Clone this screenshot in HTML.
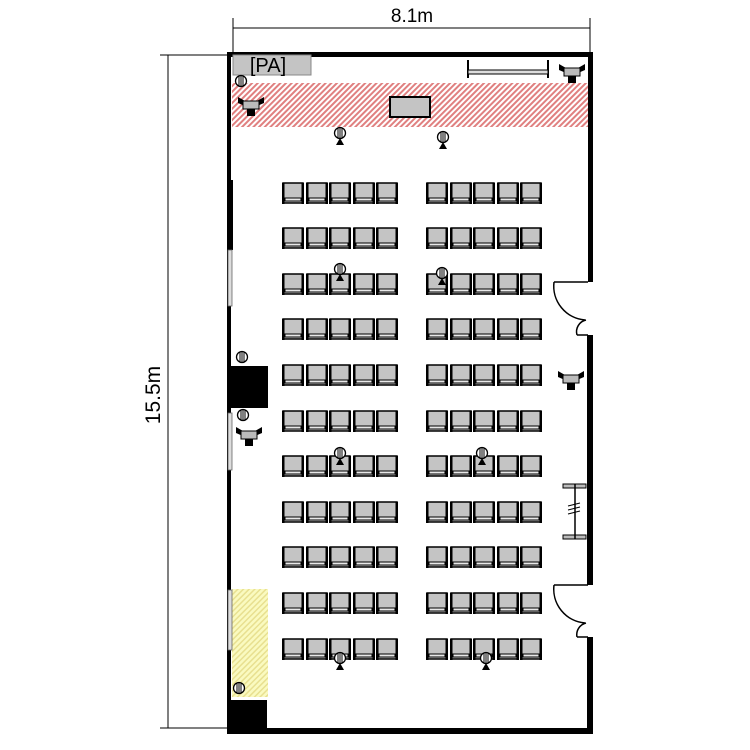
<!DOCTYPE html>
<html><head><meta charset="utf-8"><style>body{margin:0;background:#fff}svg{display:block}</style></head><body>
<svg width="750" height="750" viewBox="0 0 750 750" xmlns="http://www.w3.org/2000/svg">
<defs>
<pattern id="rh" width="4" height="4" patternUnits="userSpaceOnUse" patternTransform="rotate(45)"><rect width="4" height="4" fill="#fff"/><rect width="2" height="4" fill="#e08080"/></pattern>
<pattern id="yh" width="4" height="4" patternUnits="userSpaceOnUse" patternTransform="rotate(45)"><rect width="4" height="4" fill="#fafac0"/><rect width="1.5" height="4" fill="#e8e090"/></pattern>
<g id="ch"><rect x="0" y="0" width="20" height="20" fill="#c4c4c4" stroke="#000" stroke-width="1.5"/><rect x="-1" y="0" width="2.5" height="21" fill="#000"/><rect x="18.5" y="0" width="2.5" height="21" fill="#000"/><rect x="2" y="15" width="16" height="3" fill="#e8e8e8" stroke="#000" stroke-width="1"/></g>
<g id="mc"><ellipse cx="0" cy="0" rx="5.5" ry="5.5" fill="#fff" stroke="#000" stroke-width="1.3"/><line x1="-2" y1="-5" x2="-2" y2="5" stroke="#000"/><line x1="0" y1="-5.5" x2="0" y2="5.5" stroke="#000"/><line x1="2" y1="-5" x2="2" y2="5" stroke="#000"/></g>
<g id="mt"><use href="#mc"/><polygon points="-4,12 4,12 0,5" fill="#000"/></g>
<g id="sp"><polygon points="-13,-6 -6,-2 6,-2 13,-6 13,0 6,3 -6,3 -13,0" fill="#000"/><rect x="-8" y="-2" width="16" height="8" fill="#bbb" stroke="#000"/><rect x="-4" y="6" width="8" height="7" fill="#000"/></g>
<g id="row"><use href="#ch" x="283"/><use href="#ch" x="307"/><use href="#ch" x="330"/><use href="#ch" x="354"/><use href="#ch" x="377"/><use href="#ch" x="427"/><use href="#ch" x="451"/><use href="#ch" x="474"/><use href="#ch" x="498"/><use href="#ch" x="521"/></g>
</defs>
<!-- dimensions -->
<text x="412" y="22" font-family="Liberation Sans, sans-serif" font-size="19" text-anchor="middle">8.1m</text>
<line x1="233" y1="28" x2="590" y2="28" stroke="#000"/>
<line x1="233" y1="18" x2="233" y2="52" stroke="#000"/>
<line x1="590" y1="18" x2="590" y2="52" stroke="#000"/>
<line x1="168" y1="55" x2="168" y2="728" stroke="#000"/>
<line x1="160" y1="55" x2="228" y2="55" stroke="#000"/>
<line x1="160" y1="728" x2="228" y2="728" stroke="#000"/>
<text transform="translate(160,395) rotate(-90)" font-family="Liberation Sans, sans-serif" font-size="21" text-anchor="middle">15.5m</text>
<!-- hatches -->
<rect x="232" y="83" width="356" height="44" fill="url(#rh)"/>
<rect x="232" y="589" width="36" height="108" fill="url(#yh)"/>
<!-- walls -->
<rect x="227" y="52" width="366" height="5" fill="#000"/>
<rect x="227" y="728" width="366" height="6" fill="#000"/>
<rect x="227" y="52" width="4" height="682" fill="#000"/>
<rect x="227" y="180" width="6" height="70" fill="#000"/>
<rect x="228" y="250" width="4" height="56" fill="#ddd" stroke="#666" stroke-width="0.8"/>
<rect x="228" y="413" width="4" height="57" fill="#ddd" stroke="#666" stroke-width="0.8"/>
<rect x="228" y="590" width="4" height="60" fill="#ddd" stroke="#666" stroke-width="0.8"/>
<rect x="227" y="366" width="41" height="42" fill="#000"/>
<rect x="227" y="700" width="40" height="34" fill="#000"/>
<rect x="588" y="52" width="5" height="230" fill="#000"/>
<rect x="587" y="335" width="6" height="250" fill="#000"/>
<rect x="587" y="637" width="6" height="97" fill="#000"/>
<!-- doors -->
<path d="M554 282 H588 M554 282 A34 34 0 0 0 585 320 M577 335 H588 M577 335 A12 12 0 0 1 586 320" fill="none" stroke="#000" stroke-width="1.5"/>
<path d="M554 585 H588 M554 585 A34 34 0 0 0 585 623 M577 637 H588 M577 637 A12 12 0 0 1 586 623" fill="none" stroke="#000" stroke-width="1.5"/>
<!-- stair -->
<rect x="563" y="484" width="23" height="4" fill="#bbb" stroke="#000"/>
<rect x="563" y="535" width="23" height="4" fill="#bbb" stroke="#000"/>
<line x1="575" y1="484" x2="575" y2="539" stroke="#000" stroke-width="1.5"/>
<path d="M568 506 l12 -3 M568 510 l12 -3 M568 514 l12 -3" stroke="#000"/>
<!-- PA -->
<rect x="233" y="55" width="78" height="20" fill="#c4c4c4" stroke="#888"/>
<text x="268" y="72" font-family="Liberation Sans, sans-serif" font-size="20" text-anchor="middle">[PA]</text>
<!-- bar -->
<path d="M468 60 V78 M548 60 V78" stroke="#000" stroke-width="2"/>
<rect x="468" y="70" width="80" height="4" fill="#ddd" stroke="#000"/>
<rect x="390" y="97" width="40" height="20" fill="#c4c4c4" stroke="#000" stroke-width="2"/>
<!-- chairs -->
<use href="#row" y="183"/><use href="#row" y="228"/><use href="#row" y="274"/><use href="#row" y="319"/><use href="#row" y="365"/><use href="#row" y="411"/><use href="#row" y="456"/><use href="#row" y="502"/><use href="#row" y="547"/><use href="#row" y="593"/><use href="#row" y="639"/>
<!-- mics -->
<use href="#mt" x="340" y="133"/><use href="#mt" x="443" y="137"/>
<use href="#mt" x="340" y="269"/><use href="#mt" x="442" y="273"/>
<use href="#mt" x="340" y="453"/><use href="#mt" x="482" y="453"/>
<use href="#mt" x="340" y="658"/><use href="#mt" x="486" y="658"/>
<use href="#mc" x="241" y="81"/><use href="#mc" x="242" y="357"/><use href="#mc" x="243" y="415"/><use href="#mc" x="239" y="688"/>
<!-- speakers -->
<use href="#sp" x="251" y="103"/><use href="#sp" x="572" y="70"/><use href="#sp" x="571" y="377"/><use href="#sp" x="249" y="433"/>
</svg>
</body></html>
